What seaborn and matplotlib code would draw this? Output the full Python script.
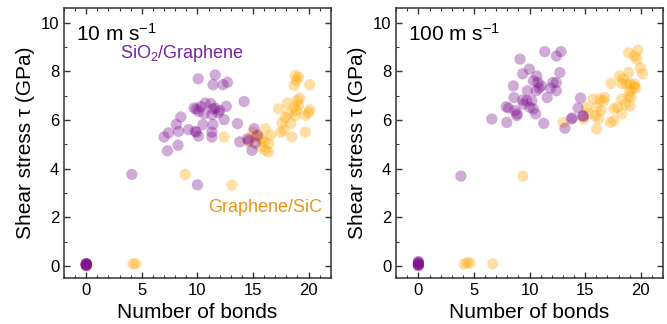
import pandas as pd
import seaborn as sns
import matplotlib.pyplot as plt
from matplotlib.ticker import MultipleLocator

# ---- data ----
# 10 m/s panel
left_sio2_x = [0, 0, 0, 0, 0, 0, 0, 0, 4.1, 10.0, 10.07, 11.6, 11.4, 12.3, 12.7, 14.2, 9.7, 10.1,
               10.7, 11.2, 11.6, 12.0, 12.6, 10.6, 11.3, 12.4, 8.5, 8.1, 10.5, 11.4, 13.6,
               7.4, 8.3, 9.2, 9.8, 11.3, 7.0, 10.1, 11.3, 8.25, 7.3, 13.8, 14.6, 15.2,
               14.9, 15.1, 14.5, 15.4, 9.9, 11.4, 9.9, 10.3, 11.9]
left_sio2_y = [0.0, 0.05, 0.1, 0.08, 0.03, 0.06, 0.02, 0.09, 3.76, 3.33, 7.69, 7.85, 7.45, 7.45, 7.55, 6.76,
               6.49, 6.35, 6.69, 6.67, 6.49, 6.39, 6.56, 6.26, 6.22, 6.01, 6.12, 5.82, 5.81,
               5.81, 5.85, 5.47, 5.53, 5.6, 5.53, 5.5, 5.3, 5.33, 5.3, 4.96, 4.73, 5.1,
               5.16, 5.05, 4.75, 5.64, 5.23, 5.37, 6.45, 6.45, 5.5, 6.55, 6.3]
left_sic_x = [0, 0.15, 4.2, 4.45, 8.9, 13.1, 12.4, 14.6, 16.1, 16.6, 15.8, 15.7, 16.4,
              16.4, 16.1, 15.2, 15.5, 15.0, 16.0, 18.8, 18.9, 18.7, 20.1, 19.1, 19.0,
              18.1, 17.3, 18.7, 19.1, 20.1, 18.2, 18.8, 19.7, 17.6, 18.4, 17.8, 17.5,
              18.5, 19.7, 20.0, 18.9, 19.2, 17.9]
left_sic_y = [0.05, 0.05, 0.08, 0.08, 3.76, 3.32, 5.3, 5.1, 5.64, 5.37, 5.23, 4.89, 5.03,
              4.68, 4.75, 5.3, 5.3, 5.5, 5.1, 7.83, 7.63, 7.42, 7.45, 7.76, 6.8, 6.69,
              6.46, 6.53, 6.6, 6.42, 6.26, 6.19, 6.19, 5.88, 5.85, 5.57, 5.5, 5.3, 5.5,
              6.3, 6.4, 6.9, 6.1]

# 100 m/s panel
right_sio2_x = [0, 0, 0, 0, 0, 0, 0, 0, 3.82, 6.60, 7.95, 7.89, 8.10, 8.70, 8.84, 8.60, 9.38, 9.75,
                10.03, 10.34, 10.55, 11.27, 9.80, 8.54, 9.38, 9.98, 9.14, 10.65, 10.34,
                10.75, 11.06, 10.86, 11.58, 11.89, 12.10, 12.41, 12.41, 12.72, 11.37,
                12.41, 12.82, 13.86, 13.18, 14.58, 14.37, 14.79, 14.84, 13.75, 9.44,
                8.89, 10.20, 10.60]
right_sio2_y = [0.0, 0.06, 0.12, 0.18, 0.03, 0.09, 0.15, 0.05, 3.69, 6.04, 5.9, 6.54, 6.49, 6.38, 6.18, 6.92,
                6.82, 6.79, 6.52, 6.45, 6.25, 5.86, 7.2, 7.4, 7.9, 8.09, 8.5, 7.81, 7.61,
                7.54, 7.4, 7.31, 6.92, 7.31, 7.54, 7.54, 7.2, 7.95, 8.81, 8.63, 8.81,
                6.08, 5.66, 6.9, 6.49, 6.18, 6.14, 6.04, 6.65, 6.25, 6.79, 7.2]
right_sic_x = [0, 4.10, 4.40, 4.65, 6.69, 9.39, 13.03, 14.84, 15.72, 16.34, 16.65, 16.75,
               15.10, 16.03, 16.44, 15.30, 15.92, 16.23, 16.03, 17.58, 17.89, 18.30,
               17.58, 19.03, 18.30, 17.32, 18.10, 18.41, 18.30, 18.72, 19.03, 19.03,
               18.92, 19.44, 19.54, 18.92, 18.92, 19.44, 19.75, 19.65, 19.96, 20.16,
               17.27, 18.61, 19.13, 19.39]
right_sic_y = [0.05, 0.07, 0.13, 0.11, 0.08, 3.69, 5.9, 6.04, 6.86, 6.86, 6.79, 6.92, 6.52,
               6.52, 6.38, 6.25, 6.18, 6.04, 5.63, 6.45, 6.52, 6.25, 5.97, 6.58, 6.86,
               7.5, 7.81, 7.69, 7.5, 7.47, 7.5, 7.2, 7.0, 7.47, 7.3, 7.95, 8.76, 8.63,
               8.87, 8.5, 8.15, 7.9, 5.9, 6.65, 6.94, 7.37]

speeds = ['10 m s$^{-1}$', '100 m s$^{-1}$']
purple = '#7d0f8e'
orange = '#ffa500'

plt.rcParams['font.family'] = ['Liberation Sans', 'DejaVu Sans']
plt.rcParams['mathtext.fontset'] = 'custom'
plt.rcParams['mathtext.rm'] = 'Liberation Sans'
plt.rcParams['mathtext.it'] = 'Liberation Sans:italic'
plt.rcParams['axes.linewidth'] = 1.1
plt.rcParams['axes.edgecolor'] = '#333333'


def makeFrame(sio2_x, sio2_y, sic_x, sic_y):
    # SiC first so the purple points are drawn on top
    b = pd.DataFrame({'bonds': sic_x, 'stress': sic_y, 'Interface': 'Graphene/SiC'})
    a = pd.DataFrame({'bonds': sio2_x, 'stress': sio2_y, 'Interface': 'SiO2/Graphene'})
    return pd.concat([b, a], ignore_index=True)


frames = [makeFrame(left_sio2_x, left_sio2_y, left_sic_x, left_sic_y),
          makeFrame(right_sio2_x, right_sio2_y, right_sic_x, right_sic_y)]

fig = plt.figure(figsize=(6.67, 3.24), dpi=100)
ax_left = fig.add_axes([0.096, 0.142, 0.40, 0.833])
ax_right = fig.add_axes([0.594, 0.142, 0.40, 0.833])

for ax, df, speed in zip([ax_left, ax_right], frames, speeds):
    sns.scatterplot(data=df, x='bonds', y='stress', hue='Interface',
                    palette={'SiO2/Graphene': purple, 'Graphene/SiC': orange},
                    alpha=0.35, s=66, edgecolor='none', legend=False, ax=ax)
    ax.set_xlim(-2, 22)
    ax.set_ylim(-0.5, 10.6)
    ax.xaxis.set_major_locator(MultipleLocator(5))
    ax.xaxis.set_minor_locator(MultipleLocator(1))
    ax.yaxis.set_major_locator(MultipleLocator(2))
    ax.yaxis.set_minor_locator(MultipleLocator(1))
    ax.tick_params(which='both', direction='in', top=True, right=True,
                   color='#333333', labelsize=12)
    ax.tick_params(which='major', length=4, width=1)
    ax.tick_params(which='minor', length=2, width=0.8)
    ax.set_xlabel('Number of bonds', fontsize=15)
    ax.set_ylabel('Shear stress τ (GPa)', fontsize=15)
    ax.text(0.045, 0.905, speed, transform=ax.transAxes, fontsize=15,
            ha='left', va='center')

ax_left.text(0.21, 0.833, 'SiO$_2$/Graphene', transform=ax_left.transAxes,
             fontsize=13, color='#7a22a0', ha='left', va='center')
ax_left.text(0.54, 0.263, 'Graphene/SiC', transform=ax_left.transAxes,
             fontsize=13, color='#ee9418', ha='left', va='center')

plt.savefig('out.png', format='png', dpi=100)
